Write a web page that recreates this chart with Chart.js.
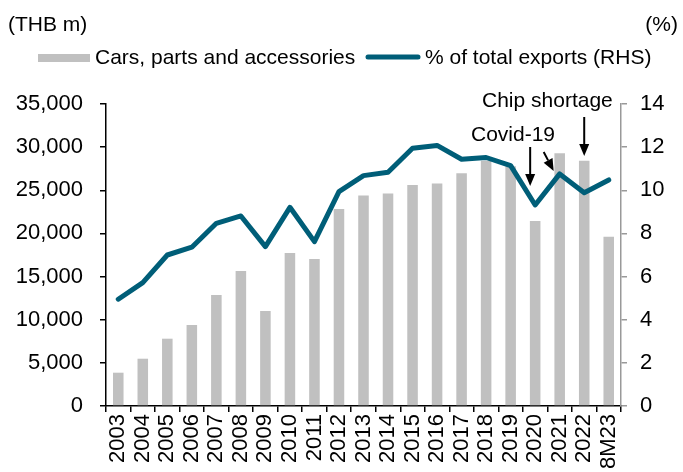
<!DOCTYPE html>
<html>
<head>
<meta charset="utf-8">
<script src="https://cdn.jsdelivr.net/npm/chart.js@4.4.0/dist/chart.umd.min.js"></script>
<style>
  body { margin: 0; background: #fff; }
  #wrap { width: 683px; height: 472px; position: relative; }
</style>
</head>
<body>
<div id="wrap"><canvas id="myChart"></canvas></div>
<script>
var years = ['2003', '2004', '2005', '2006', '2007', '2008', '2009', '2010', '2011', '2012',
    '2013', '2014', '2015', '2016', '2017', '2018', '2019', '2020', '2021', '2022', '8M23'];

// THB m, left axis
var carExports = [3860, 5480, 7800, 9390, 12860, 15650, 11010, 17730, 17030, 22830,
    24410, 24640, 25610, 25800, 26960, 28420, 27800, 21440, 29280, 28420, 19620];

// % of total exports, right axis
var shareOfTotal = [4.95, 5.72, 7.0, 7.36, 8.47, 8.81, 7.39, 9.21, 7.62, 9.94,
    10.68, 10.84, 11.95, 12.08, 11.44, 11.52, 11.14, 9.32, 10.76, 9.89, 10.48];

var leftTicks = [0, 5000, 10000, 15000, 20000, 25000, 30000, 35000];
var rightTicks = [0, 2, 4, 6, 8, 10, 12, 14];

var FONT = "'Liberation Sans', Arial, sans-serif";
var BAR_COLOR = '#c0c0c0';
var LINE_COLOR = '#005e78';

function arrow(ctx, x1, y1, x2, y2) {
    var ang = Math.atan2(y2 - y1, x2 - x1);
    var head = 12, half = 5;
    var bx = x2 - head * Math.cos(ang), by = y2 - head * Math.sin(ang);
    ctx.beginPath();
    ctx.moveTo(x1, y1);
    ctx.lineTo(bx, by);
    ctx.stroke();
    ctx.beginPath();
    ctx.moveTo(x2, y2);
    ctx.lineTo(bx + half * Math.sin(ang), by - half * Math.cos(ang));
    ctx.lineTo(bx - half * Math.sin(ang), by + half * Math.cos(ang));
    ctx.closePath();
    ctx.fill();
}

// titles, legend and the two event notes
var extras = {
    id: 'extras',
    afterDraw: function (chart) {
        var ctx = chart.ctx;
        var xs = chart.scales.x;
        ctx.save();
        ctx.fillStyle = '#000';
        ctx.font = '21px ' + FONT;
        ctx.textBaseline = 'alphabetic';
        ctx.textAlign = 'left';
        ctx.fillText('(THB m)', 8, 31);
        ctx.textAlign = 'right';
        ctx.fillText('(%)', 678, 31);

        // legend
        ctx.textAlign = 'left';
        ctx.fillStyle = BAR_COLOR;
        ctx.fillRect(38, 54, 52, 8);
        ctx.fillStyle = '#000';
        ctx.fillText('Cars, parts and accessories', 95, 64);
        ctx.strokeStyle = LINE_COLOR;
        ctx.lineWidth = 5;
        ctx.lineCap = 'round';
        ctx.beginPath();
        ctx.moveTo(368, 57);
        ctx.lineTo(418, 57);
        ctx.stroke();
        ctx.fillText('% of total exports (RHS)', 425, 64);

        // notes
        var x2020 = xs.getPixelForValue(17);
        var x2021 = xs.getPixelForValue(18);
        var x2022 = xs.getPixelForValue(19);
        ctx.fillText('Covid-19', 471, 141);
        ctx.fillText('Chip shortage', 482, 107);
        ctx.strokeStyle = '#000';
        ctx.fillStyle = '#000';
        ctx.lineWidth = 2;
        ctx.lineCap = 'butt';
        arrow(ctx, x2020 - 5, 147, x2020 - 5, 186);
        arrow(ctx, x2021 - 16, 152, x2021 - 6, 171);
        arrow(ctx, x2022, 117, x2022, 156);
        ctx.restore();
    }
};

var ctx = document.getElementById('myChart').getContext('2d');
var chart = new Chart(ctx, {
    type: 'bar',
    data: {
        labels: years,
        datasets: [{
            type: 'line',
            label: '% of total exports (RHS)',
            data: shareOfTotal,
            yAxisID: 'y1',
            borderColor: LINE_COLOR,
            borderWidth: 5,
            borderJoinStyle: 'round',
            borderCapStyle: 'round',
            pointRadius: 0,
            tension: 0,
            fill: false,
            order: 0
        }, {
            label: 'Cars, parts and accessories',
            data: carExports,
            yAxisID: 'y',
            backgroundColor: BAR_COLOR,
            barPercentage: 0.43,
            categoryPercentage: 1,
            order: 1
        }]
    },
    options: {
        responsive: true,
        maintainAspectRatio: false,
        animation: false,
        layout: { padding: { top: 104, left: 0, right: 0, bottom: 0 } },
        plugins: {
            legend: { display: false },
            tooltip: { enabled: false }
        },
        scales: {
            x: {
                offset: true,
                grid: { offset: true, drawOnChartArea: false, drawTicks: true, tickLength: 6, color: '#000', lineWidth: 1.5 },
                border: { color: '#000', width: 1.5 },
                ticks: { autoSkip: false, maxRotation: 90, minRotation: 90, padding: 2, color: '#000', font: { family: FONT, size: 22 } },
                afterFit: function (s) { s.height = 66; }
            },
            y: {
                position: 'left',
                min: 0,
                max: 35000,
                afterBuildTicks: function (s) { s.ticks = leftTicks.map(function (v) { return { value: v }; }); },
                grid: { drawOnChartArea: false, drawTicks: true, tickLength: 6, color: '#000', lineWidth: 1.5 },
                border: { color: '#000', width: 1.5 },
                ticks: {
                    padding: 17, color: '#000', font: { family: FONT, size: 22 },
                    callback: function (v) { return Number(v).toLocaleString('en-US'); }
                },
                afterFit: function (s) { s.width = 106; }
            },
            y1: {
                position: 'right',
                min: 0,
                max: 14,
                afterBuildTicks: function (s) { s.ticks = rightTicks.map(function (v) { return { value: v }; }); },
                grid: { drawOnChartArea: false, drawTicks: true, tickLength: 6, color: '#999', lineWidth: 1.5 },
                border: { color: '#999', width: 1.5 },
                ticks: { padding: 13, color: '#000', font: { family: FONT, size: 22 } },
                afterFit: function (s) { s.width = 62; }
            }
        }
    },
    plugins: [extras]
});
</script>
</body>
</html>
